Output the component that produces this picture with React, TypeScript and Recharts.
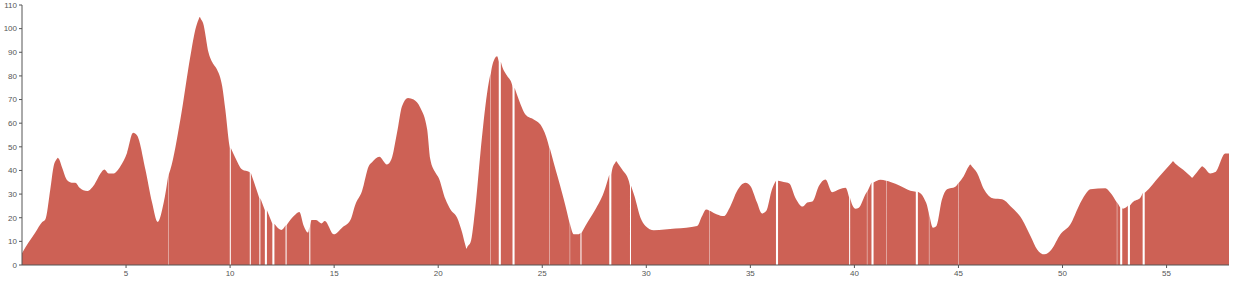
import { AreaChart, Area, XAxis, YAxis } from 'recharts'

// profile: distance (x) and value (y)
const profileX = [
  0, 0.32, 0.64, 0.97, 1.12, 1.36, 1.52, 1.67, 1.72, 1.78, 1.93, 2.17, 2.45, 2.56, 2.77, 3.13, 3.48, 3.77, 3.96, 4.17,
  4.38, 4.73, 5.05, 5.34, 5.53, 5.93, 6.25, 6.52, 6.81, 7.13, 7.61, 8.09, 8.33, 8.49, 8.54, 8.6, 8.7, 8.97, 9.21,
  9.37, 9.62, 9.77, 9.97, 10.25, 10.58, 10.93, 11.13, 11.37, 11.7, 12.1, 12.46, 12.82, 13.14, 13.33, 13.54, 13.75,
  13.91, 14.13, 14.39, 14.55, 14.98, 15.38, 15.78, 16.02, 16.34, 16.66, 16.82, 17.17, 17.54, 17.75, 18.02, 18.26,
  18.55, 18.82, 19.14, 19.47, 19.62, 19.87, 20.02, 20.35, 20.59, 20.91, 21.15, 21.31, 21.36, 21.41, 21.55, 21.79,
  22.03, 22.35, 22.59, 22.83, 23.07, 23.31, 23.55, 23.87, 24.19, 24.59, 24.91, 25.23, 25.55, 25.95, 26.27, 26.51,
  26.75, 27.07, 27.55, 27.95, 28.36, 28.5, 28.56, 28.62, 28.84, 29.16, 29.43, 29.72, 29.96, 30.36, 31.4, 32.44, 32.68,
  32.87, 33.08, 33.4, 33.72, 34.04, 34.36, 34.76, 35, 35.32, 35.56, 35.76, 36.04, 36.33, 36.6, 36.87, 37.16, 37.52,
  37.73, 38, 38.29, 38.61, 38.93, 39.28, 39.57, 39.81, 40.05, 40.21, 40.53, 40.85, 41.25, 41.73, 42.21, 42.69, 43.09,
  43.33, 43.57, 43.78, 43.94, 44.21, 44.45, 44.85, 45.25, 45.5, 45.57, 45.64, 45.89, 46.21, 46.69, 47.1, 47.5, 48.06,
  48.46, 48.78, 49.13, 49.47, 49.9, 50.38, 50.78, 51.1, 51.34, 52.06, 52.3, 52.62, 52.89, 53.1, 53.37, 53.74, 53.98,
  54.64, 55.22, 55.31, 55.4, 55.8, 56.15, 56.23, 56.3, 56.62, 56.71, 56.8, 57.1, 57.34, 57.82, 58,
]
const profileY = [
  5, 9.6, 13.8, 18.2, 19.3, 32, 41.8, 44.8, 45.4, 44.8, 41.1, 35.9, 34.8, 34.8, 32.7, 31.3, 34.1, 38.7, 40.4, 38.7,
  38.7, 41.8, 47.5, 55.9, 54.8, 40.4, 26.4, 18.2, 26.4, 40.4, 61.6, 88.3, 99.6, 104, 104.9, 104, 102.4, 89.7, 84.8,
  82.7, 75.6, 65.8, 50.3, 45.4, 40.4, 39.3, 35.5, 29.2, 23.5, 17.2, 14.8, 18.2, 21.4, 22.4, 16.5, 13.7,
  19, 19, 17.6, 18.6, 13, 15.8, 19, 25.6, 31.3, 41.8, 43.5, 45.8, 42.5, 44.7, 55.9, 67.2,
  70.7, 70, 66.5, 57.3, 44.7, 39, 36.9, 27.8, 23.5, 20, 13.7, 8.2, 6.9, 7.8, 9.5, 24.9,
  47.5, 72.8, 84.1, 88.3, 84.1, 80.1, 76.3, 70, 63.7, 61.6, 59.4, 53.1, 43.3, 30.6, 19.3, 13,
  13, 16.5, 23.5, 30.6, 40.4, 43.2, 43.9, 43.2, 40.4, 35.5, 29.2, 20, 16.5, 14.7, 15.4, 16.5, 20.7,
  23.5, 22.8, 21.4, 20.7, 24.9, 31.3, 34.8, 33.4, 26.4, 21.8, 22.8, 32, 35.9, 35.1, 34.5, 28.5, 24.7,
  26.4, 27, 33.4, 36.2, 30.8, 32, 32.7, 27.8, 23.8, 24.2, 29.9, 34.8, 36.1, 35.1, 33.4, 31.4, 30.8,
  28.5, 22.1, 15.8, 16.5, 27.8, 32, 33.1, 37.6, 41.8, 42.5, 41.8, 39, 32.3, 28.1, 27.8, 24.9, 19.3,
  12.3, 6.6, 4.5, 6.6, 13, 17.2, 24.9, 29.9, 32, 32.5, 30.6, 26.4, 23.8, 24.7, 26.6, 28.5, 30.8,
  37.3, 43, 43.9, 43.1, 40.3, 37.5, 36.9, 37.5, 41, 41.8, 41.2, 38.7, 39.3, 47.2, 47.2,
]

// stretches with no data: where they sit, how long they last, curve level there
const gapAt = [
  7.05, 10.01, 10.97, 11.43, 11.72, 12.08, 12.69, 13.83, 22.52, 22.96, 23.62, 25.35, 26.33, 26.86, 28.27, 29.24,
  33.04, 36.28, 39.77, 40.61, 40.87, 41.53, 43.0, 43.59, 45.01, 52.62, 52.82, 53.19, 53.9,
]
const gapLength = [
  0.02, 0.05, 0.05, 0.05, 0.1, 0.1, 0.05, 0.05, 0.02, 0.1, 0.1, 0.02, 0.02, 0.05, 0.1, 0.05,
  0.02, 0.1, 0.05, 0.02, 0.1, 0.02, 0.1, 0.02, 0.02, 0.02, 0.1, 0.1, 0.1,
]
const gapLevel = [
  38.5, 49.5, 39, 28.2, 23.2, 17.4, 16.8, 16.3, 81, 86, 75, 49.5, 17.3, 13.5, 38.2, 33.5,
  23, 35.6, 28.6, 31, 34.9, 35.6, 31, 21.5, 34.8, 26.4, 24.3, 25.2, 30.6,
]

const xTicks = [5, 10, 15, 20, 25, 30, 35, 40, 45, 50, 55]
const yTicks = [0, 10, 20, 30, 40, 50, 60, 70, 80, 90, 100, 110]

type Row = { x: number; v: number | null }

function buildData(): Row[] {
  const inGap = (x: number) =>
    gapAt.some((g, i) => x > g - gapLength[i] / 2 - 0.01 && x < g + gapLength[i] / 2 + 0.01)
  const rows: Row[] = profileX
    .map((x, i) => ({ x, v: profileY[i] }))
    .filter((r) => !inGap(r.x))
  gapAt.forEach((g, i) => {
    const h = gapLength[i] / 2
    rows.push({ x: g - h, v: gapLevel[i] })
    rows.push({ x: g, v: null })
    rows.push({ x: g + h, v: gapLevel[i] })
  })
  return rows.sort((a, b) => a.x - b.x)
}

const data = buildData()

const tickStyle = { fontSize: 8, fill: '#555', fontFamily: 'Liberation Sans, Arial, sans-serif' }

export default function App() {
  return (
    <div style={{ position: 'absolute', left: 0, top: 0, background: '#fff' }}>
      <AreaChart width={1234} height={283} data={data} margin={{ top: 5, right: 5, left: 0, bottom: 0 }}>
        <XAxis
          dataKey="x"
          type="number"
          domain={[0, 58]}
          ticks={xTicks}
          height={18}
          tickSize={3}
          tick={tickStyle}
          stroke="#555"
        />
        <YAxis
          type="number"
          domain={[0, 110]}
          ticks={yTicks}
          width={22}
          tickSize={3}
          tick={tickStyle}
          stroke="#555"
          interval={0}
        />
        <Area
          type="monotone"
          dataKey="v"
          fill="#cd6155"
          fillOpacity={1}
          stroke="none"
          isAnimationActive={false}
          dot={false}
          activeDot={false}
        />
      </AreaChart>
    </div>
  )
}
